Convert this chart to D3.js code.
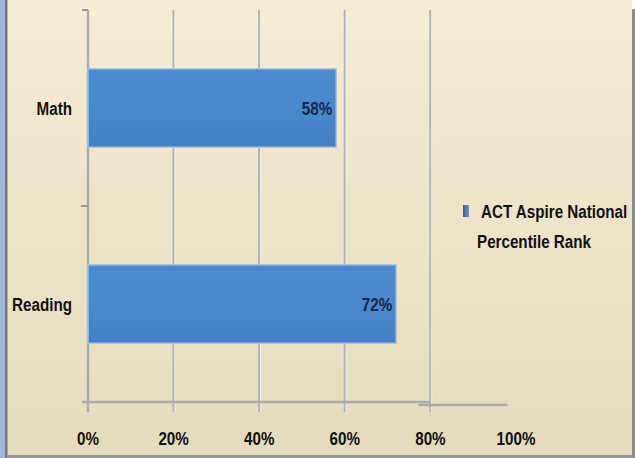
<!DOCTYPE html>
<html>
<head>
<meta charset="utf-8">
<script src="https://cdn.jsdelivr.net/npm/d3@7"></script>
<style>
  body { margin: 0; padding: 0; overflow: hidden; }
  text { font-family: "Liberation Sans", Arial, sans-serif; font-weight: bold; }
</style>
</head>
<body>
<svg width="635" height="458"></svg>
<script>
// data
var categories = ["Math", "Reading"];
var values = [0.58, 0.72];
var valueLabels = ["58%", "72%"];
var tickValues = [0, 0.2, 0.4, 0.6, 0.8, 1.0];
var gridValues = [0.2, 0.4, 0.6, 0.8];
var legendLines = ["ACT Aspire National", "Percentile Rank"];

var svg = d3.select("svg");
var defs = svg.append("defs");
var narrow = 0.8; // squeeze text like a narrow face

var bg = defs.append("linearGradient").attr("id", "bg").attr("x1", 0).attr("y1", 0).attr("x2", 0).attr("y2", 1);
bg.append("stop").attr("offset", "0%").attr("stop-color", "#f7ecd4");
bg.append("stop").attr("offset", "100%").attr("stop-color", "#e4dbbf");

var barGrad = defs.append("linearGradient").attr("id", "bar").attr("x1", 0).attr("y1", 0).attr("x2", 0).attr("y2", 1);
barGrad.append("stop").attr("offset", "0%").attr("stop-color", "#4d8bd0");
barGrad.append("stop").attr("offset", "50%").attr("stop-color", "#4a88cc");
barGrad.append("stop").attr("offset", "100%").attr("stop-color", "#437fc4");

// background and frame
svg.append("rect").attr("x", 0).attr("y", 0).attr("width", 635).attr("height", 458).attr("fill", "url(#bg)");
svg.append("rect").attr("x", 0).attr("y", 0).attr("width", 5).attr("height", 458).attr("fill", "#9db8dc");
svg.append("rect").attr("x", 5).attr("y", 0).attr("width", 2.5).attr("height", 458).attr("fill", "#777");
svg.append("rect").attr("x", 632).attr("y", 0).attr("width", 3).attr("height", 9).attr("fill", "#fff");
svg.append("rect").attr("x", 632).attr("y", 9).attr("width", 3).attr("height", 449).attr("fill", "#8a8a8a");
svg.append("rect").attr("x", 7).attr("y", 455).attr("width", 626).attr("height", 3).attr("fill", "#999");

var x = d3.scaleLinear().domain([0, 1]).range([88, 516]);
var y = d3.scaleBand().domain(categories).range([10, 402]).paddingInner(0.6).paddingOuter(0.3);
var yBounds = d3.scaleBand().domain(categories).range([10, 402]).padding(0);

// gridlines
svg.selectAll(".grid").data(gridValues).enter().append("line")
  .attr("x1", function(d){ return x(d); }).attr("x2", function(d){ return x(d); })
  .attr("y1", 10).attr("y2", 412)
  .attr("stroke", "#b2b2b2").attr("stroke-width", 2.2);
svg.selectAll(".gridhi").data(gridValues).enter().append("line")
  .attr("x1", function(d){ return x(d) + 1.3; }).attr("x2", function(d){ return x(d) + 1.3; })
  .attr("y1", 10).attr("y2", 412)
  .attr("stroke", "#f4f4f4").attr("stroke-width", 0.8);

// axes
svg.append("line").attr("x1", x(0)).attr("x2", x(0)).attr("y1", 10).attr("y2", 412)
  .attr("stroke", "#aaa").attr("stroke-width", 2.4);
svg.append("line").attr("x1", x(0) - 6).attr("x2", x(0)).attr("y1", 10).attr("y2", 10)
  .attr("stroke", "#999").attr("stroke-width", 2);
svg.selectAll(".ytick").data(categories.slice(1)).enter().append("line")
  .attr("x1", x(0) - 7).attr("x2", x(0))
  .attr("y1", function(d){ return yBounds(d); }).attr("y2", function(d){ return yBounds(d); })
  .attr("stroke", "#999").attr("stroke-width", 2);
svg.append("line").attr("x1", x(0) - 6).attr("x2", x(0.8)).attr("y1", 402).attr("y2", 402)
  .attr("stroke", "#aaa").attr("stroke-width", 2.4);
svg.append("line").attr("x1", x(0.8) - 12).attr("x2", x(0.98)).attr("y1", 405).attr("y2", 405)
  .attr("stroke", "#aaa").attr("stroke-width", 2.4);

// bars
svg.selectAll(".bar").data(values).enter().append("rect")
  .attr("x", x(0))
  .attr("y", function(d, i){ return y(categories[i]); })
  .attr("width", function(d){ return x(d) - x(0); })
  .attr("height", y.bandwidth())
  .attr("fill", "url(#bar)")
  .attr("stroke", "#a9c2de").attr("stroke-width", 1.5);

function place(px, py) { return "translate(" + px + "," + py + ") scale(" + narrow + ",1)"; }

// value labels
svg.selectAll(".val").data(values).enter().append("text")
  .attr("transform", function(d, i){ return place(x(d) - 4, y(categories[i]) + y.bandwidth() / 2 + 7); })
  .attr("text-anchor", "end")
  .attr("font-size", 19)
  .attr("fill", "#16264a")
  .text(function(d, i){ return valueLabels[i]; });

// category labels
svg.selectAll(".cat").data(categories).enter().append("text")
  .attr("transform", function(d){ return place(72, y(d) + y.bandwidth() / 2 + 7); })
  .attr("text-anchor", "end")
  .attr("font-size", 19)
  .attr("fill", "#111")
  .text(function(d){ return d; });

// x tick labels
svg.selectAll(".xt").data(tickValues).enter().append("text")
  .attr("transform", function(d){ return place(x(d), 445); })
  .attr("text-anchor", "middle")
  .attr("font-size", 19)
  .attr("fill", "#111")
  .text(function(d){ return d3.format(".0%")(d); });

// legend
var lgMark = defs.append("linearGradient").attr("id", "lg").attr("x1", 0).attr("y1", 0).attr("x2", 1).attr("y2", 0);
lgMark.append("stop").attr("offset", "0%").attr("stop-color", "#3c5c98");
lgMark.append("stop").attr("offset", "100%").attr("stop-color", "#7d94c0");
svg.append("rect").attr("x", 463).attr("y", 205).attr("width", 6).attr("height", 12).attr("fill", "url(#lg)");
svg.selectAll(".lg").data(legendLines).enter().append("text")
  .attr("transform", function(d, i){ return place(i === 0 ? 481 : 477, 218 + i * 30); })
  .attr("font-size", 19)
  .attr("fill", "#111")
  .text(function(d){ return d; });
</script>
</body>
</html>
